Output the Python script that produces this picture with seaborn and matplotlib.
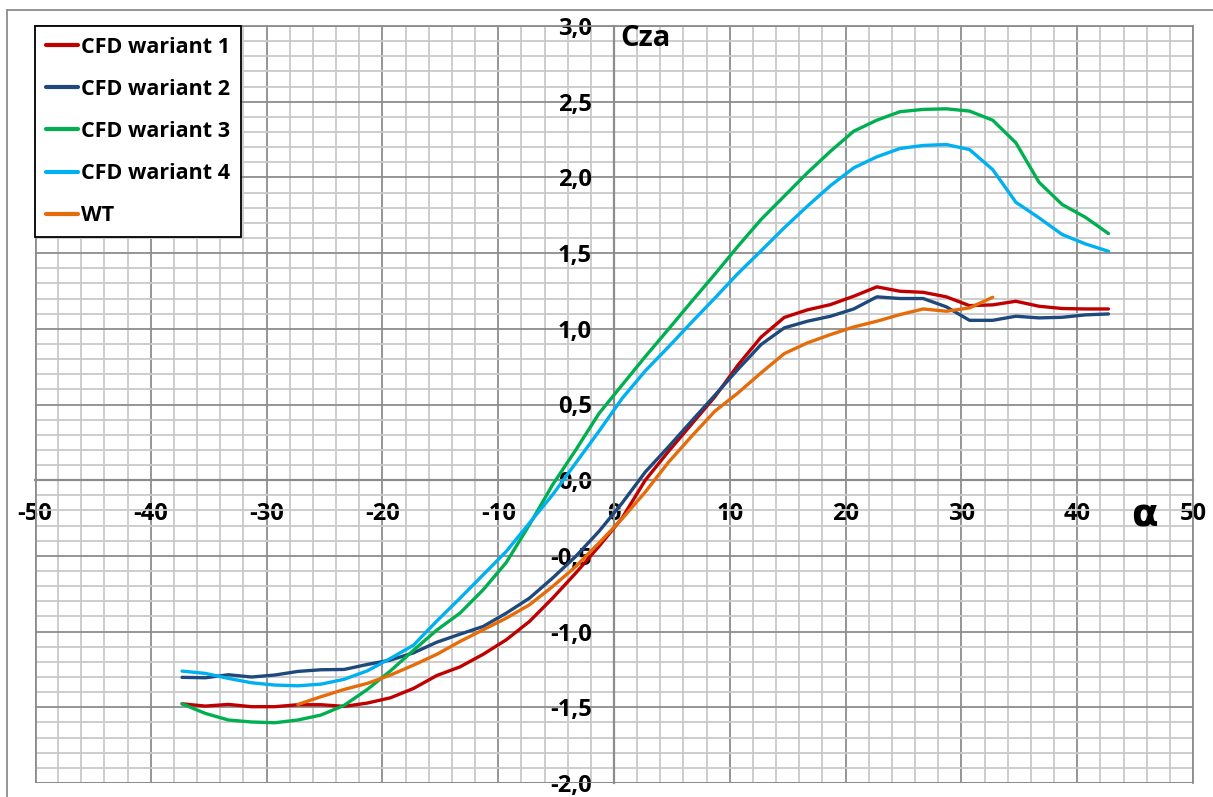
import matplotlib
matplotlib.use('Agg')
import matplotlib.pyplot as plt
from matplotlib.ticker import MultipleLocator, FuncFormatter
from matplotlib.lines import Line2D
import seaborn as sns
import pandas as pd

# angle of attack [deg], common for CFD series
alpha = [-37.3, -35.3, -33.3, -31.3, -29.3, -27.3, -25.3, -23.3, -21.3, -19.3,
         -17.3, -15.3, -13.3, -11.3, -9.3, -7.3, -5.3, -3.3, -1.3, 0.7,
         2.7, 4.7, 6.7, 8.7, 10.7, 12.7, 14.7, 16.7, 18.7, 20.7,
         22.7, 24.7, 26.7, 28.7, 30.7, 32.7, 34.7, 36.7, 38.7, 40.7, 42.7]

cfd1 = [-1.477, -1.492, -1.481, -1.496, -1.496, -1.483, -1.483, -1.494, -1.472, -1.437,
        -1.375, -1.29, -1.233, -1.15, -1.054, -0.933, -0.779, -0.613, -0.437, -0.25,
        0.0, 0.19, 0.37, 0.55, 0.76, 0.945, 1.075, 1.125, 1.16, 1.215,
        1.277, 1.248, 1.241, 1.211, 1.153, 1.158, 1.182, 1.149, 1.134, 1.131, 1.131]

cfd2 = [-1.302, -1.305, -1.285, -1.300, -1.287, -1.263, -1.252, -1.250, -1.217, -1.188,
        -1.140, -1.07, -1.017, -0.966, -0.878, -0.779, -0.646, -0.503, -0.338, -0.151,
        0.054, 0.22, 0.391, 0.56, 0.732, 0.896, 1.006, 1.05, 1.083, 1.131,
        1.211, 1.2, 1.2, 1.145, 1.056, 1.056, 1.083, 1.072, 1.076, 1.092, 1.098]

cfd3 = [-1.477, -1.540, -1.584, -1.597, -1.602, -1.584, -1.551, -1.487, -1.382, -1.259,
        -1.122, -0.99, -0.878, -0.724, -0.543, -0.294, -0.03, 0.2, 0.44, 0.629,
        0.816, 0.997, 1.18, 1.36, 1.545, 1.722, 1.876, 2.03, 2.173, 2.305,
        2.378, 2.434, 2.449, 2.453, 2.438, 2.378, 2.229, 1.968, 1.821, 1.737, 1.629]

cfd4 = [-1.261, -1.276, -1.309, -1.338, -1.353, -1.358, -1.347, -1.315, -1.259, -1.177,
        -1.089, -0.93, -0.78, -0.625, -0.47, -0.283, -0.096, 0.114, 0.323, 0.54,
        0.722, 0.88, 1.043, 1.202, 1.365, 1.515, 1.667, 1.81, 1.946, 2.063,
        2.136, 2.191, 2.211, 2.217, 2.184, 2.052, 1.836, 1.733, 1.623, 1.561, 1.512]

# wind tunnel
alpha_wt = [-27.3, -25.3, -23.3, -21.3, -19.3, -17.3, -15.3, -13.3, -11.3, -9.3,
            -7.3, -5.3, -3.3, -1.3, 0.7, 2.7, 4.7, 6.7, 8.7, 10.7,
            12.7, 14.7, 16.7, 18.7, 20.7, 22.7, 24.7, 26.7, 28.7, 30.7, 32.7]
wt = [-1.481, -1.430, -1.382, -1.342, -1.287, -1.221, -1.15, -1.065, -0.988, -0.911,
      -0.823, -0.702, -0.57, -0.415, -0.255, -0.078, 0.118, 0.29, 0.455, 0.576,
      0.709, 0.836, 0.907, 0.962, 1.012, 1.05, 1.094, 1.131, 1.116, 1.138, 1.208]

labels = ['CFD wariant 1', 'CFD wariant 2', 'CFD wariant 3', 'CFD wariant 4', 'WT']
colors = ['#C00000', '#1F497D', '#00B050', '#00B0F0', '#E46C0A']

frames = []
for lab, ys in zip(labels[:4], [cfd1, cfd2, cfd3, cfd4]):
    frames.append(pd.DataFrame({'alpha': alpha, 'cza': ys, 'serie': lab}))
frames.append(pd.DataFrame({'alpha': alpha_wt, 'cza': wt, 'serie': 'WT'}))
df = pd.concat(frames, ignore_index=True)

sns.set_style('white')
plt.rcParams['font.family'] = ['Open Sans', 'DejaVu Sans']
plt.rcParams['font.weight'] = 'bold'

fig = plt.figure(figsize=(12.13, 7.97), dpi=100)
ax = fig.add_axes([35 / 1213, 14 / 797, 1158 / 1213, 757 / 797])

sns.lineplot(data=df, x='alpha', y='cza', hue='serie', palette=dict(zip(labels, colors)),
             hue_order=labels, sort=False, linewidth=2.4, ax=ax, legend=False, zorder=3)

ax.set_xlim(-50, 50)
ax.set_ylim(-2.0, 3.0)
ax.xaxis.set_major_locator(MultipleLocator(10))
ax.xaxis.set_minor_locator(MultipleLocator(2))
ax.yaxis.set_major_locator(MultipleLocator(0.5))
ax.yaxis.set_minor_locator(MultipleLocator(0.1))
ax.yaxis.set_major_formatter(FuncFormatter(lambda v, p: f'{v:.1f}'.replace('.', ',')))
ax.xaxis.set_major_formatter(FuncFormatter(lambda v, p: f'{v:.0f}'))

ax.grid(which='minor', color='#c9c9c9', linewidth=1.3, zorder=0)
ax.grid(which='major', color='#8c8c8c', linewidth=1.3, zorder=1)
ax.set_axisbelow(True)

for side in ['top', 'right']:
    ax.spines[side].set_color('#8c8c8c')
    ax.spines[side].set_linewidth(1.3)
ax.spines['left'].set_position(('data', 0))
ax.spines['bottom'].set_position(('data', 0))
ax.spines['left'].set_color('#8c8c8c')
ax.spines['bottom'].set_color('#8c8c8c')
ax.spines['left'].set_linewidth(1.6)
ax.spines['bottom'].set_linewidth(1.6)
ax.axhline(-2.0, color='#8c8c8c', lw=2.0, zorder=1)
ax.axvline(-50, color='#8c8c8c', lw=2.0, zorder=1)

ax.tick_params(axis='x', which='major', length=0, pad=16, labelsize=17, labelcolor='black')
ax.tick_params(axis='y', which='major', length=0, pad=16, labelsize=17, labelcolor='black')
ax.tick_params(which='minor', length=0)
ax.set_xlabel('')
ax.set_ylabel('')

ax.text(0.55, 2.87, 'Cza', fontsize=21, fontweight='bold', ha='left', va='baseline', color='black')
ax.text(45.8, -0.23, 'α', fontsize=28, fontweight='bold', ha='center', va='center',
        family=['DejaVu Sans'], color='black')

handles = [Line2D([], [], color=c, lw=3) for c in colors]
leg = ax.legend(handles, labels, loc='upper left', bbox_to_anchor=(0, 1), borderaxespad=0,
                fancybox=False, frameon=True, framealpha=1, edgecolor='black',
                prop={'size': 15.5, 'weight': 'bold'}, handlelength=1.5, handletextpad=0.15,
                labelspacing=0.98, borderpad=0.5)
leg.get_frame().set_linewidth(1.3)
leg.set_zorder(5)
for t in leg.get_texts():
    t.set_color('black')

# outer chart-area border
fig.add_artist(Line2D([7 / 1213, 1], [1 - 10 / 797, 1 - 10 / 797], color='#8c8c8c', lw=1.3))
fig.add_artist(Line2D([7 / 1213, 7 / 1213], [0, 1 - 10 / 797], color='#8c8c8c', lw=1.3))

fig.savefig('out.png', dpi=100)
